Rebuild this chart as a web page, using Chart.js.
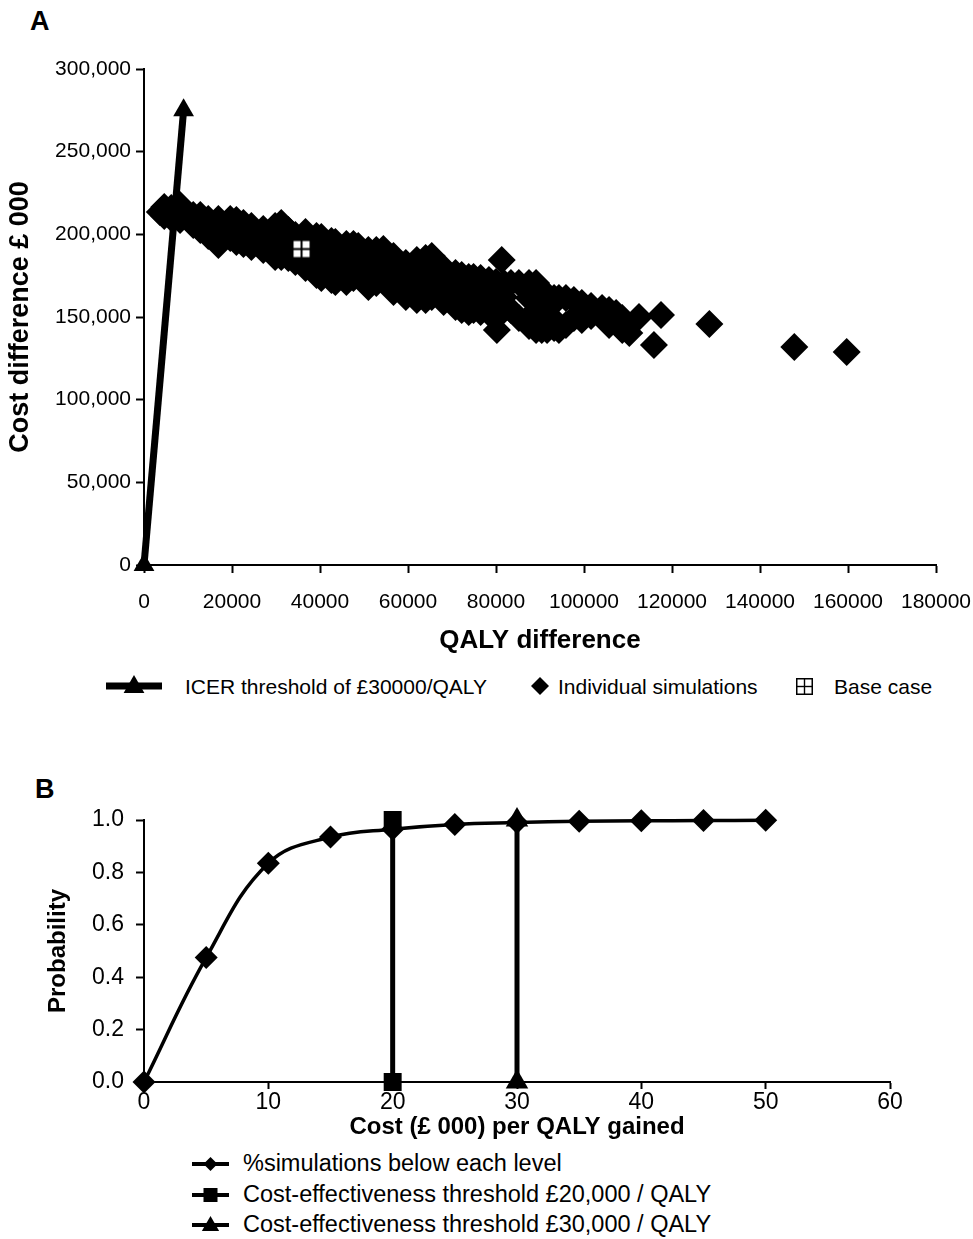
<!DOCTYPE html>
<html lang="en">
<head>
  <meta charset="UTF-8" />
  <title>Cost-effectiveness scatter and acceptability curve</title>
  <script src="https://cdn.jsdelivr.net/npm/chart.js"></script>
  <style>
    body {
      margin: 0;
      background: #fff;
      font-family: 'Liberation Sans', Arial, sans-serif;
      color: #000;
    }
    #page {
      position: relative;
      width: 973px;
      height: 1239px;
      overflow: hidden;
    }
    canvas.chart { position: absolute; left: 0; }
    #chartA { top: 0; }
    #chartB { top: 760px; }
    .panel {
      position: absolute;
      font-weight: bold;
      font-size: 27px;
      line-height: 30px;
    }
    .legend-icon { position: absolute; }
    .legend-text {
      position: absolute;
      white-space: nowrap;
      line-height: 1;
    }
  </style>
</head>
<body>
<div id="page">
  <div class="panel" style="left:30px; top:6px;">A</div>
  <canvas id="chartA" class="chart" width="973" height="665"></canvas>
  <div class="panel" style="left:35px; top:774px;">B</div>
  <canvas id="chartB" class="chart" width="973" height="390"></canvas>
  <div id="legendA"></div>
  <div id="legendB"></div>
</div>

<script>
  // ---- Panel A: incremental cost vs QALY difference ----
  const icerLine = [[0, 0], [9000, 275000]];
  const baseCase = [[35800, 191100]];
  const simulations = [
    [3600, 213500],
    [4600, 216500], [4600, 211100],
    [6200, 215900], [6200, 209900],
    [8200, 217700], [8200, 213500], [8200, 208700],
    [11200, 211700], [11200, 205600],
    [12800, 211700], [12800, 207400], [12800, 202600],
    [14600, 209300], [14600, 204400], [14600, 199000],
    [16900, 209300], [16900, 203800], [16900, 198400], [16900, 193500],
    [19600, 209300], [19600, 203800], [19600, 197800],
    [21000, 208700], [21000, 202600], [21000, 195400],
    [22600, 206800], [22600, 200800], [22600, 194100],
    [24400, 205000], [24400, 199000], [24400, 192300],
    [27100, 203200], [27100, 196600], [27100, 190500],
    [29800, 205000], [29800, 199000], [29800, 192900], [29800, 186300],
    [31200, 206800], [31200, 200800], [31200, 193500], [31200, 186300],
    [32800, 202600], [32800, 196600], [32800, 190500], [32800, 185700],
    [34400, 199600], [34400, 193500], [34400, 187500], [34400, 183300],
    [36700, 201400], [36700, 195400], [36700, 190500], [36700, 185700], [36700, 179600],
    [39200, 199000], [39200, 192900], [39200, 186900], [39200, 180800], [39200, 175400],
    [40300, 198400], [40300, 192300], [40300, 185700], [40300, 179600], [40300, 173600],
    [42600, 196000], [42600, 190500], [42600, 184500], [42600, 178400], [42600, 172400],
    [43500, 195400], [43500, 189300], [43500, 183300], [43500, 177200], [43500, 171200],
    [46000, 194100], [46000, 188100], [46000, 182600], [46000, 176600], [46000, 171200],
    [47600, 194100], [47600, 186900], [47600, 179600], [47600, 173600],
    [48700, 192900], [48700, 186900], [48700, 180800], [48700, 175400],
    [51000, 190500], [51000, 184500], [51000, 178400], [51000, 172400], [51000, 168100],
    [52800, 190500], [52800, 184500], [52800, 178400], [52800, 170600],
    [54400, 191100], [54400, 185700], [54400, 179600], [54400, 173600],
    [56700, 186900], [56700, 181400], [56700, 175400], [56700, 170600], [56700, 165100],
    [59500, 182600], [59500, 176600], [59500, 170600], [59500, 166300], [59500, 162100],
    [62000, 184500], [62000, 178400], [62000, 172400], [62000, 166300], [62000, 160300],
    [64000, 185700], [64000, 179600], [64000, 173600], [64000, 166300], [64000, 160300],
    [65400, 186900], [65400, 180800], [65400, 174200], [65400, 168100], [65400, 162100],
    [68100, 179600], [68100, 173600], [68100, 166300], [68100, 159100],
    [70800, 176600], [70800, 170600], [70800, 163300], [70800, 156000],
    [72200, 175400], [72200, 168100], [72200, 162100], [72200, 154200],
    [73800, 174200], [73800, 168100], [73800, 162100], [73800, 153000],
    [74900, 174200], [74900, 166300], [74900, 160300], [74900, 154200],
    [76500, 173600], [76500, 166300], [76500, 160300], [76500, 153000],
    [78400, 172400], [78400, 166300], [78400, 160300], [78400, 152400],
    [80000, 171200], [80000, 162100], [80000, 151200],
    [80200, 142100],
    [81300, 184500],
    [81800, 170600], [81800, 162100], [81800, 154200],
    [83400, 170600], [83400, 154200],
    [85200, 170600], [85200, 149400],
    [87500, 170600], [87500, 161500], [87500, 144500],
    [89100, 170600], [89100, 163300], [89100, 154200], [89100, 142100],
    [90400, 166300], [90400, 157200], [90400, 149400], [90400, 142100],
    [91600, 163300], [91600, 155400], [91600, 142100],
    [93200, 161500], [93200, 148200], [93200, 143300],
    [94300, 161500], [94300, 142100],
    [95900, 161500], [95900, 145200],
    [97700, 160300], [97700, 149400],
    [99500, 158500], [99500, 148200],
    [101600, 156600], [101600, 150600],
    [104100, 155400], [104100, 150000],
    [105700, 154200], [105700, 145200],
    [107300, 152400],
    [108700, 149400], [108700, 142100],
    [110300, 140300],
    [112500, 150000],
    [115900, 133100],
    [117500, 151200],
    [128500, 145800],
    [147800, 131800],
    [159700, 128800]
  ];

  // ---- Panel B: acceptability curve ----
  const costLevels = [0, 5, 10, 15, 20, 25, 30, 35, 40, 45, 50];
  const probBelow = [0, 0.475, 0.835, 0.935, 0.965, 0.983, 0.99, 0.995, 0.997, 0.998, 0.999];
  const threshold20 = [[20, 0], [20, 1]];
  const threshold30 = [[30, 0], [30, 1]];

  const toXY = pairs => pairs.map(([x, y]) => ({ x, y }));

  Chart.defaults.font.family = "'Liberation Sans', Arial, sans-serif";
  Chart.defaults.color = '#000';

  // small canvases used as markers / legend icons
  function makeIcon(w, h, paint) {
    const c = document.createElement('canvas');
    c.width = w;
    c.height = h;
    const ctx = c.getContext('2d');
    ctx.fillStyle = '#000';
    ctx.strokeStyle = '#000';
    paint(ctx, w / 2, h / 2);
    return c;
  }
  function diamond(ctx, x, y, r) {
    ctx.beginPath();
    ctx.moveTo(x, y - r); ctx.lineTo(x + r, y); ctx.lineTo(x, y + r); ctx.lineTo(x - r, y);
    ctx.closePath(); ctx.fill();
  }
  function triangle(ctx, x, y, r) {
    const dx = r * Math.sin(Math.PI / 3);
    ctx.beginPath();
    ctx.moveTo(x, y - r); ctx.lineTo(x + dx, y + r / 2); ctx.lineTo(x - dx, y + r / 2);
    ctx.closePath(); ctx.fill();
  }
  function hLine(ctx, w, y, lw) {
    ctx.lineWidth = lw;
    ctx.beginPath(); ctx.moveTo(0, y); ctx.lineTo(w, y); ctx.stroke();
  }
  function baseBox(ctx) {
    ctx.fillRect(0, 0, 19, 19);
    ctx.fillStyle = '#fff';
    ctx.fillRect(1.5, 1.5, 7, 7);
    ctx.fillRect(10.5, 1.5, 7, 7);
    ctx.fillRect(1.5, 10.5, 7, 7);
    ctx.fillRect(10.5, 10.5, 7, 7);
  }
  const baseMarker = makeIcon(19, 19, baseBox);

  function axisStyle(tickLen) {
    return {
      grid: { display: true, drawOnChartArea: false, drawTicks: true, tickLength: tickLen, tickWidth: 2, tickColor: '#000' },
      border: { display: true, color: '#000', width: 2 }
    };
  }

  const chartA = new Chart(document.getElementById('chartA'), {
    type: 'scatter',
    data: {
      datasets: [
        {
          label: 'ICER threshold of £30000/QALY',
          data: toXY(icerLine),
          showLine: true,
          borderColor: '#000',
          borderWidth: 7,
          backgroundColor: '#000',
          pointStyle: 'triangle',
          pointRadius: 12,
          pointBorderWidth: 0,
          clip: false
        },
        {
          label: 'Individual simulations',
          data: toXY(simulations),
          backgroundColor: '#000',
          borderWidth: 0,
          pointStyle: 'rectRot',
          pointRadius: 14,
          clip: false
        },
        {
          label: 'Base case',
          data: toXY(baseCase),
          pointStyle: baseMarker,
          pointRadius: 10,
          order: -1,
          clip: false
        }
      ]
    },
    options: {
      responsive: false,
      animation: false,
      events: [],
      layout: { padding: { top: 69, left: 0, right: 0, bottom: 0 } },
      plugins: { legend: { display: false }, tooltip: { enabled: false } },
      scales: {
        x: {
          type: 'linear',
          min: 0,
          max: 180000,
          ...axisStyle(8),
          ticks: { stepSize: 20000, padding: 17, maxRotation: 0, autoSkip: false,
                   font: { size: 21 }, callback: v => String(v) },
          title: { display: true, text: 'QALY difference', font: { size: 26, weight: 'bold' },
                   padding: { top: 0, bottom: 9 } },
          afterFit(s) { s.height = 100; s.paddingLeft = 0; s.paddingRight = 37; }
        },
        y: {
          min: 0,
          max: 300000,
          ...axisStyle(8),
          ticks: { stepSize: 50000, padding: 5, font: { size: 21 } },
          title: { display: true, text: 'Cost difference £ 000', font: { size: 27, weight: 'bold' },
                   padding: { top: 4, bottom: 0 } },
          afterFit(s) { s.width = 144; s.paddingTop = 0; s.paddingBottom = 0; }
        }
      }
    }
  });

  const chartB = new Chart(document.getElementById('chartB'), {
    type: 'line',
    data: {
      datasets: [
        {
          label: '%simulations below each level',
          data: costLevels.map((c, i) => ({ x: c, y: probBelow[i] })),
          borderColor: '#000',
          borderWidth: 3.5,
          backgroundColor: '#000',
          tension: 0.4,
          pointStyle: 'rectRot',
          pointRadius: 11.5,
          pointBorderWidth: 0,
          clip: false
        },
        {
          label: 'Cost-effectiveness threshold £20,000 / QALY',
          data: toXY(threshold20),
          borderColor: '#000',
          borderWidth: 5,
          backgroundColor: '#000',
          pointStyle: 'rect',
          pointRadius: 12.7,
          pointBorderWidth: 0,
          clip: false
        },
        {
          label: 'Cost-effectiveness threshold £30,000 / QALY',
          data: toXY(threshold30),
          borderColor: '#000',
          borderWidth: 5,
          backgroundColor: '#000',
          pointStyle: 'triangle',
          pointRadius: 13,
          pointBorderWidth: 0,
          clip: false
        }
      ]
    },
    options: {
      responsive: false,
      animation: false,
      events: [],
      layout: { padding: { top: 60, left: 0, right: 0, bottom: 0 } },
      plugins: { legend: { display: false }, tooltip: { enabled: false } },
      scales: {
        x: {
          type: 'linear',
          min: 0,
          max: 60,
          ...axisStyle(7),
          ticks: { stepSize: 10, padding: 0, maxRotation: 0, font: { size: 23 } },
          title: { display: true, text: 'Cost (£ 000) per QALY gained', font: { size: 24, weight: 'bold' },
                   padding: { top: 0, bottom: 8 } },
          afterFit(s) { s.height = 68; s.paddingLeft = 0; s.paddingRight = 83; }
        },
        y: {
          min: 0,
          max: 1,
          ...axisStyle(8),
          ticks: { stepSize: 0.2, padding: 12, font: { size: 23 }, callback: v => v.toFixed(1) },
          title: { display: true, text: 'Probability', font: { size: 24, weight: 'bold' },
                   padding: { top: 44, bottom: 0 } },
          afterFit(s) { s.width = 144; s.paddingTop = 0; s.paddingBottom = 0; }
        }
      }
    }
  });

  // HTML legends built from the dataset labels
  function buildLegend(holder, chart, fontSize, entries) {
    const el = document.getElementById(holder);
    chart.data.datasets.forEach((ds, i) => {
      const e = entries[i];
      const icon = e.icon;
      icon.className = 'legend-icon';
      icon.style.left = e.iconX + 'px';
      icon.style.top = (e.y - icon.height / 2) + 'px';
      el.appendChild(icon);
      const t = document.createElement('span');
      t.className = 'legend-text';
      t.textContent = ds.label;
      t.style.fontSize = fontSize + 'px';
      t.style.left = e.textX + 'px';
      t.style.top = (e.y - fontSize / 2) + 'px';
      el.appendChild(t);
    });
  }

  buildLegend('legendA', chartA, 21, [
    { iconX: 106, textX: 185, y: 686,
      icon: makeIcon(56, 26, (ctx, cx, cy) => { hLine(ctx, 56, cy, 7); triangle(ctx, cx, cy + 1, 12); }) },
    { iconX: 530, textX: 558, y: 686,
      icon: makeIcon(20, 20, (ctx, cx, cy) => diamond(ctx, cx, cy, 9)) },
    { iconX: 796, textX: 834, y: 686,
      icon: makeIcon(17, 17, ctx => {
        ctx.fillRect(0, 0, 17, 17);
        ctx.fillStyle = '#fff';
        ctx.fillRect(1.5, 1.5, 6.3, 6.3); ctx.fillRect(9.2, 1.5, 6.3, 6.3);
        ctx.fillRect(1.5, 9.2, 6.3, 6.3); ctx.fillRect(9.2, 9.2, 6.3, 6.3);
      }) }
  ]);

  buildLegend('legendB', chartB, 23.5, [
    { iconX: 192, textX: 243, y: 1164,
      icon: makeIcon(37, 18, (ctx, cx, cy) => { hLine(ctx, 37, cy, 4); diamond(ctx, cx, cy, 7); }) },
    { iconX: 192, textX: 243, y: 1195,
      icon: makeIcon(37, 18, (ctx, cx, cy) => { hLine(ctx, 37, cy, 4); ctx.fillRect(cx - 7, cy - 7, 14, 14); }) },
    { iconX: 192, textX: 243, y: 1225,
      icon: makeIcon(37, 20, (ctx, cx, cy) => { hLine(ctx, 37, cy, 4); triangle(ctx, cx, cy + 1, 10); }) }
  ]);
</script>
</body>
</html>
